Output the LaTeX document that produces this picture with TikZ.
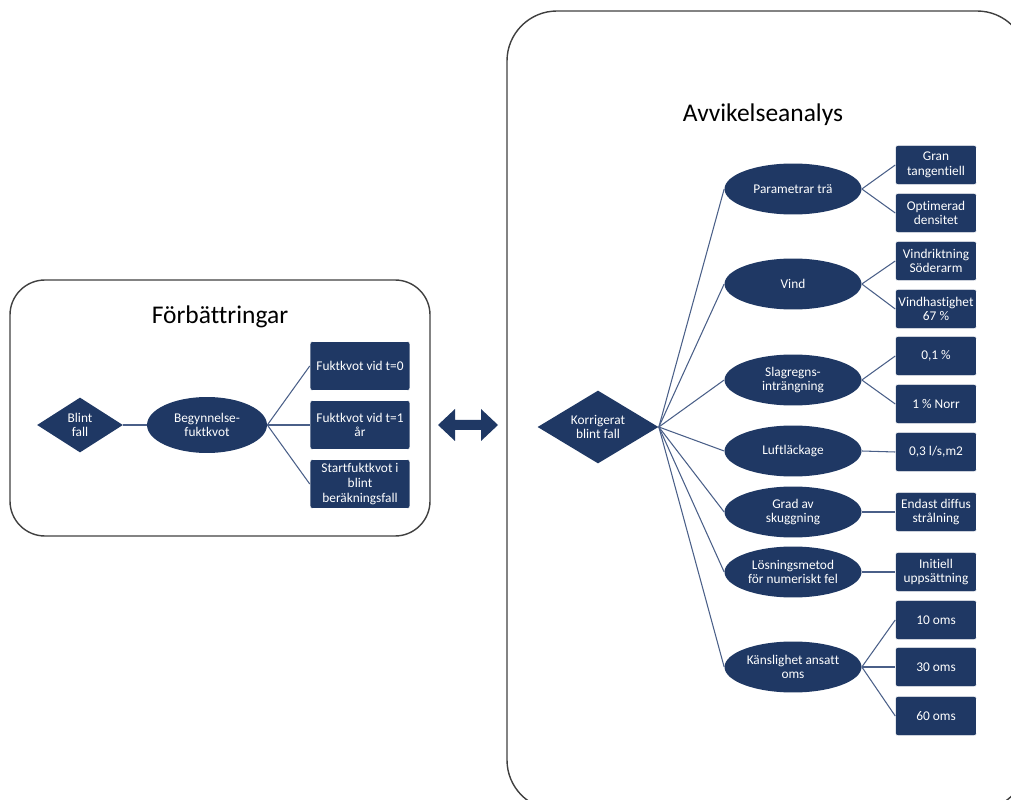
\documentclass[tikz,border=0pt]{standalone}
\usepackage{fontspec}
\setmainfont{Carlito}[Ligatures=NoCommon]
\usetikzlibrary{shapes.geometric}
\definecolor{navy}{HTML}{1F3864}
\definecolor{wire}{HTML}{4A5F88}
\definecolor{frame}{HTML}{404040}

\begin{document}
\begin{tikzpicture}[x=0.02cm,y=-0.02cm,
  every node/.style={font=\fontsize{7.6}{8.4}\selectfont, text=white, align=center, inner sep=0pt},
  title/.style={text=black, font=\fontsize{14.5}{17}\selectfont},
  rut/.style={rectangle, fill=navy, draw=white, line width=0.3pt, rounded corners=1.5pt, minimum width=1.62cm, minimum height=0.79cm},
  bigrut/.style={rut, minimum width=2cm, minimum height=0.98cm},
  oval/.style={ellipse, fill=navy, minimum width=2.74cm, minimum height=1.02cm},
  bigoval/.style={oval, minimum width=2.4cm, minimum height=1.12cm},
  ruta/.style={diamond, fill=navy, aspect=1.6},
  wire/.style={draw=wire, line width=0.6pt}
  ]
  \useasboundingbox (0,0) rectangle (1011,800);

  % FRAMES
  \draw[frame, line width=0.8pt, rounded corners=0.7cm] (10,280) rectangle (430,536);
  \draw[frame, line width=0.8pt, rounded corners=1cm] (507,11) rectangle (1027,810);
  \node[title] (forb) at (220,317) {Förbättringar};
  \node[title] (avvik) at (763,115) {Avvikelseanalys};

  % LEFT TREE
  \node[ruta, minimum width=1.72cm, minimum height=1.1cm] (blint) at (80,425) {Blint\\fall};
  \node[bigoval] (begyn) at (207,425) {Begynnelse-\\fuktkvot};
  \node[bigrut] (fukt0) at (360,366) {Fuktkvot vid t=0};
  \node[bigrut] (fukt1) at (360,425) {Fuktkvot vid t=1\\år};
  \node[bigrut] (start) at (360,484) {Startfuktkvot i\\blint\\beräkningsfall};

  \draw[wire] (blint.east) -- (begyn.west);
  \foreach \n in {fukt0,fukt1,start}
    \draw[wire] (begyn.east) -- (\n.west);

  % DOUBLE ARROW
  \fill[navy] (438,425) -- (455,409) -- (455,420) -- (481,420) -- (481,409)
    -- (498,425) -- (481,441) -- (481,430) -- (455,430) -- (455,441) -- cycle;

  % RIGHT TREE
  \node[ruta, minimum width=2.42cm, minimum height=1.46cm] (korr) at (598,427) {Korrigerat\\blint fall};

  \node[oval] (param) at (793,189) {Parametrar trä};
  \node[oval] (vind)  at (793,284) {Vind};
  \node[oval] (slag)  at (793,380) {Slagregns-\\inträngning};
  \node[oval] (luft)  at (793,451) {Luftläckage};
  \node[oval] (grad)  at (793,512) {Grad av\\skuggning};
  \node[oval] (losn)  at (793,572) {Lösningsmetod\\för numeriskt fel};
  \node[oval] (kansl) at (793,667) {Känslighet ansatt\\oms};

  \node[rut] (gran)   at (936,165) {Gran\\tangentiell};
  \node[rut] (optim)  at (936,213) {Optimerad\\densitet};
  \node[rut] (vrikt)  at (936,261) {Vindriktning\\Söderarm};
  \node[rut] (vhast)  at (936,309) {Vindhastighet\\67 \%};
  \node[rut] (p01)    at (936,356) {0,1 \%};
  \node[rut] (norr)   at (936,404) {1 \% Norr};
  \node[rut] (luftv)  at (936,452) {0,3 l/s,m2};
  \node[rut] (diffus) at (936,512) {Endast diffus\\strålning};
  \node[rut] (init)   at (936,572) {Initiell\\uppsättning};
  \node[rut] (oms10)  at (936,620) {10 oms};
  \node[rut] (oms30)  at (936,667) {30 oms};
  \node[rut] (oms60)  at (936,716) {60 oms};

  \foreach \n in {param,vind,slag,luft,grad,losn,kansl}
    \draw[wire] (korr.east) -- (\n.west);

  \foreach \a/\b in {param/gran,param/optim,vind/vrikt,vind/vhast,slag/p01,slag/norr,
      luft/luftv,grad/diffus,losn/init,kansl/oms10,kansl/oms30,kansl/oms60}
    \draw[wire] (\a.east) -- (\b.west);
\end{tikzpicture}
\end{document}
